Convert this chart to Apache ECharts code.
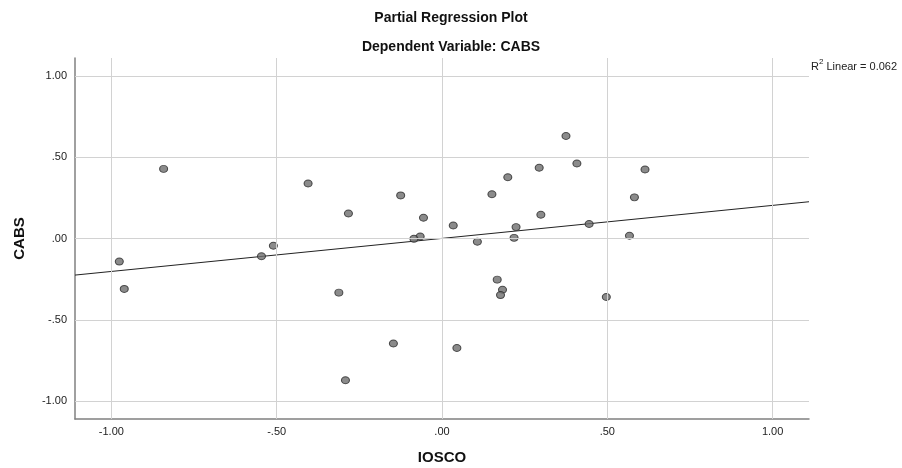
<!DOCTYPE html>
<html>
<head>
<meta charset="utf-8">
<script src="https://cdn.jsdelivr.net/npm/echarts@6/dist/echarts.min.js"></script>
<style>html,body{margin:0;padding:0;background:#fff}#c{width:902px;height:468px}</style>
</head>
<body>
<div id="c"></div>
<script>
// IOSCO (x) residuals
var iosco = [-0.842,-0.405,-0.283,-0.125,-0.510,-0.546,-0.976,-0.961,-0.312,-0.147,-0.292,
  0.375,0.408,0.294,0.614,0.199,0.151,0.582,-0.056,0.299,0.034,0.224,0.445,-0.066,-0.085,
  0.567,0.218,0.107,0.167,0.183,0.177,0.497,0.045];
// CABS (y) residuals
var cabs = [0.428,0.338,0.154,0.265,-0.045,-0.109,-0.142,-0.310,-0.333,-0.646,-0.872,
  0.630,0.461,0.435,0.424,0.377,0.272,0.253,0.128,0.146,0.080,0.070,0.089,0.012,-0.002,
  0.017,0.004,-0.020,-0.253,-0.315,-0.348,-0.360,-0.673];
// fit line endpoints
var fitX = [-1.11, 1.11];
var fitY = [-0.225, 0.226];
var tickValues = [-1, -0.5, 0, 0.5, 1];
var axisMin = -1.11, axisMax = 1.11;

function fmt(v){ return v.toFixed(2).replace(/^(-?)0\./, '$1.'); }

var pts = iosco.map(function(x,i){ return [x, cabs[i]]; });
var fit = fitX.map(function(x,i){ return [x, fitY[i]]; });
var gridMarks = tickValues.map(function(v){ return {xAxis: v}; })
  .concat(tickValues.map(function(v){ return {yAxis: v}; }));

var font = 'Liberation Sans, Arial, sans-serif';
var chart = echarts.init(document.getElementById('c'));
chart.setOption({
  animation: false,
  backgroundColor: '#fff',
  title: [
    {text: 'Partial Regression Plot', left: 446, textAlign: 'center', top: 4,
     textStyle: {fontFamily: font, fontSize: 14, fontWeight: 'bold', color: '#111', lineHeight: 18}},
    {text: 'Dependent Variable: CABS', left: 446, textAlign: 'center', top: 33,
     textStyle: {fontFamily: font, fontSize: 14, fontWeight: 'bold', color: '#111', lineHeight: 18}}
  ],
  graphic: [{
    type: 'text', left: 811, top: 58,
    style: {
      text: '{n|R}{s|2}{n| Linear = 0.062}',
      rich: {
        n: {fontFamily: font, fontSize: 11, fill: '#222', verticalAlign: 'bottom', lineHeight: 14},
        s: {fontFamily: font, fontSize: 8, fill: '#222', verticalAlign: 'top', lineHeight: 14, padding:[0,0,4,0]}
      }
    }
  }],
  grid: {left: 75, right: 93, top: 58, bottom: 49, containLabel: false, outerBoundsMode: 'none'},
  xAxis: {
    type: 'value', min: axisMin, max: axisMax,
    name: 'IOSCO', nameLocation: 'middle', nameGap: 31,
    nameTextStyle: {fontFamily: font, fontSize: 15, fontWeight: 'bold', color: '#111'},
    axisLine: {show: true, onZero: false, lineStyle: {color: '#808080', width: 1.5}},
    axisTick: {show: false},
    splitLine: {show: false},
    axisLabel: {customValues: tickValues, formatter: fmt, margin: 7,
      fontFamily: font, fontSize: 11, color: '#222'}
  },
  yAxis: {
    type: 'value', min: axisMin, max: axisMax,
    name: 'CABS', nameLocation: 'middle', nameGap: 48, nameRotate: 90,
    nameTextStyle: {fontFamily: font, fontSize: 15, fontWeight: 'bold', color: '#111'},
    axisLine: {show: true, onZero: false, lineStyle: {color: '#808080', width: 1.5}},
    axisTick: {show: false},
    splitLine: {show: false},
    axisLabel: {customValues: tickValues, formatter: fmt, margin: 8,
      fontFamily: font, fontSize: 11, color: '#222'}
  },
  series: [
    {type: 'line', data: [[0,0]], showSymbol: false, symbol: 'none', lineStyle: {width: 0}, z: 1, silent: true,
     markLine: {silent: true, symbol: ['none','none'], label: {show: false},
       lineStyle: {color: '#d2d2d2', width: 1, type: 'solid'}, data: gridMarks, animation: false}},
    {type: 'line', data: fit, showSymbol: false, symbol: 'none', z: 2,
     lineStyle: {color: '#222', width: 1}},
    {type: 'scatter', data: pts, symbol: 'circle', symbolSize: [8, 7], z: 3,
     itemStyle: {color: '#6e6e6e', borderColor: '#2a2a2a', borderWidth: 1}}
  ]
});
</script>
</body>
</html>
